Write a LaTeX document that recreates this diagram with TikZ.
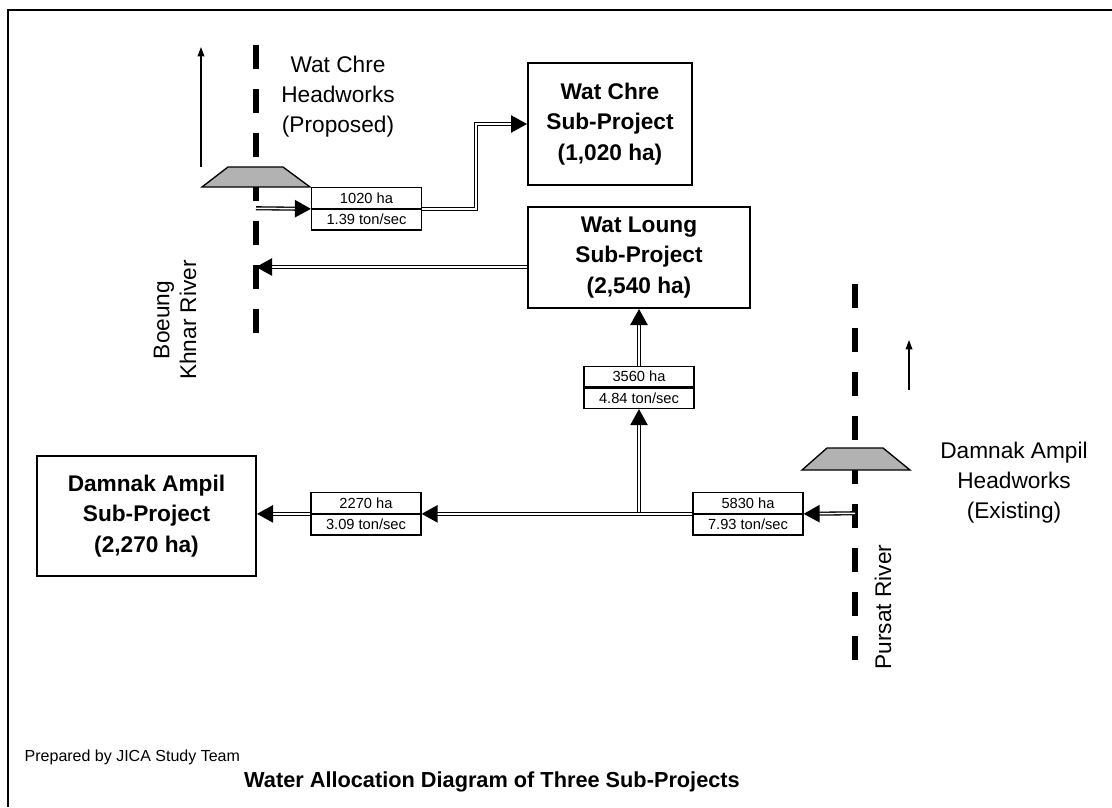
\documentclass[tikz,border=0pt]{standalone}
\usepackage{fontspec}
\setmainfont{Liberation Sans}
\usetikzlibrary{arrows.meta}
\usetikzlibrary{positioning}

\tikzset{
	project/.style={draw,line width=1.5pt,align=center,inner sep=0pt,
		font=\fontsize{17}{23}\selectfont\bfseries},
	flowtop/.style={draw,line width=0.9pt,minimum width=82.5pt,minimum height=15.4pt,
		inner sep=0pt,font=\fontsize{11}{12}\selectfont},
	pipe/.style={double,double distance=1.1pt,line width=1pt,
		-{Triangle[length=12pt,width=13pt]}},
	river/.style={line width=4.5pt,dash pattern=on 18pt off 15pt},
	weir/.style={draw,line width=1pt,fill=black!30},
	flowdir/.style={line width=1pt,-{Triangle[length=7pt,width=5pt]}},
	sitetext/.style={align=center,font=\fontsize{17}{22.5}\selectfont},
}

\begin{document}
\begin{tikzpicture}[x=0.75pt,y=-0.75pt,node distance=0pt]
	\useasboundingbox (0,0) rectangle (1112,807);
	\draw[line width=1.5pt] (8,807) -- (8,10) -- (1112,10);

	% Rivers and headworks
	\draw[river] (256,45) -- (256,335);
	\draw[river] (855,284) -- (855,662);
	\draw[weir] (202,187) -- (228,167) -- (283,167) -- (310,187) -- cycle;
	\draw[weir] (802,470) -- (827,448) -- (883,448) -- (910,470) -- cycle;
	\draw[flowdir] (201,167) -- (201,47);
	\draw[flowdir] (909,390) -- (909,340);

	\node[sitetext] (wch) at (338,97) {Wat Chre\\Headworks\\(Proposed)};
	\node[sitetext] (dah) at (1014,483) {Damnak Ampil\\Headworks\\(Existing)};
	\node[sitetext,font=\fontsize{17}{20}\selectfont,rotate=90] (bkr) at (175,320) {Boeung\\Khnar River};
	\node[sitetext,rotate=90] (psr) at (883,607) {Pursat River};

	% Sub-projects
	\node[project,minimum width=123pt,minimum height=91.5pt] (wcp) at (610,124)
		{Wat Chre\\Sub-Project\\(1,020 ha)};
	\node[project,minimum width=166.5pt,minimum height=75.75pt] (wlp) at (639,257.5)
		{Wat Loung\\Sub-Project\\(2,540 ha)};
	\node[project,minimum width=164.25pt,minimum height=90pt] (dap) at (146.5,516)
		{Damnak Ampil\\Sub-Project\\(2,270 ha)};

	% Flow boxes
	\node[flowtop] (q1a) at (366.5,198) {1020 ha};
	\node[flowtop,below=of q1a] (q1b) {1.39 ton/sec};
	\node[flowtop] (q2a) at (639,376.5) {3560 ha};
	\node[flowtop,below=of q2a] (q2b) {4.84 ton/sec};
	\node[flowtop] (q3a) at (366,503) {2270 ha};
	\node[flowtop,below=of q3a] (q3b) {3.09 ton/sec};
	\node[flowtop] (q5a) at (748,503) {5830 ha};
	\node[flowtop,below=of q5a] (q5b) {7.93 ton/sec};

	\coordinate (wcr) at (256,208.25);
	\coordinate (bkc) at (256,267);
	\coordinate (prc) at (855,513.25);

	% Connectors
	\draw[pipe] (wcr) -- (q1b.north west);
	\draw[pipe] (q1b.north east) -- ++(54,0) |- (wcp.west);
	\draw[pipe] (wlp.west |- bkc) -- (bkc);
	\draw[pipe] (q2a.north) -- (wlp.south);
	\draw[pipe] (q2b.south |- q5b.north west) -- (q2b.south);
	\draw[pipe] (prc) -- (q5b.north east);
	\draw[pipe] (q5b.north west) -- (q3b.north east);
	\draw[pipe] (q3b.north west) -- (dap.east |- q3b.north west);

	\node[anchor=west,font=\fontsize{12}{14}\selectfont] (prep) at (20,757)
		{Prepared by JICA Study Team};
	\node[font=\fontsize{16.3}{19}\selectfont\bfseries] (ttl) at (492,782)
		{Water Allocation Diagram of Three Sub-Projects};
\end{tikzpicture}
\end{document}
